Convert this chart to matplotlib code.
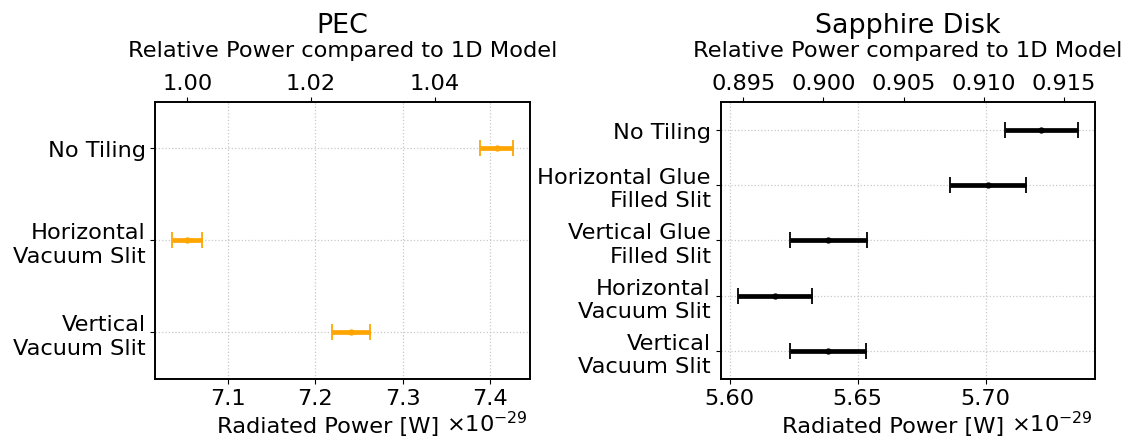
import numpy as np
import matplotlib
matplotlib.use("Agg")
import matplotlib.pyplot as plt

# ---- data (radiated power in units of 1e-29 W) ----
pec_labels = ["No Tiling", "Horizontal\nVacuum Slit", "Vertical\nVacuum Slit"]
pec_power = [7.4071, 7.0536, 7.2407]
pec_err = [0.0186, 0.0169, 0.0212]
pec_ref = 7.054  # 1D model power

sap_labels = ["No Tiling", "Horizontal Glue\nFilled Slit", "Vertical Glue\nFilled Slit",
              "Horizontal\nVacuum Slit", "Vertical\nVacuum Slit"]
sap_power = [5.7218, 5.7010, 5.6385, 5.6177, 5.6384]
sap_err = [0.0143, 0.0147, 0.0150, 0.0145, 0.0149]
sap_ref = 6.263  # 1D model power

plt.rcParams["font.family"] = ["DejaVu Sans"]
plt.rcParams["font.size"] = 16.2

fig = plt.figure(figsize=(11.28, 4.39), dpi=100)
W, H = 1128, 439
top_px, bot_px = 103.3, 379.5
axh = bot_px - top_px
axL = fig.add_axes([155.3 / W, 1 - bot_px / H, (530 - 155.3) / W, axh / H])
axR = fig.add_axes([720.7 / W, 1 - bot_px / H, (1095 - 720.7) / W, axh / H])


def ycoord(px):
    return (bot_px - px) / axh


def panel(ax, labels, power, err, ref, color, title):
    y = np.arange(len(labels))
    ax.errorbar(power, y, xerr=err, fmt="o", color=color, ecolor=color,
                elinewidth=3.4, capsize=6, capthick=1.3, markersize=3.5, zorder=3)
    ax.set_yticks(y)
    ax.set_yticklabels(labels)
    ax.set_ylim(len(labels) - 0.5, -0.5)
    ax.grid(True, linestyle=":", color="#c8c8c8", linewidth=0.9)
    ax.set_axisbelow(True)
    for s in ax.spines.values():
        s.set_linewidth(1.2)
    ax.set_xlabel("Radiated Power [W]")
    ax.xaxis.set_label_coords(0.461, ycoord(432.7))
    ax.xaxis.label.set_va("baseline")
    ax.text(0.9947, ycoord(432.7), r"$\times10^{-29}$", transform=ax.transAxes,
            ha="right", va="baseline", fontsize=16.2)
    ax2 = ax.twiny()
    lo, hi = ax.get_xlim()
    ax2.set_xlim(lo / ref, hi / ref)
    ax2.set_xlabel("Relative Power compared to 1D Model")
    ax2.xaxis.set_label_coords(0.5, ycoord(56.7))
    ax2.xaxis.label.set_va("baseline")
    for s in ax2.spines.values():
        s.set_linewidth(1.2)
    ax2.set_title(title, fontsize=19.4, y=ycoord(33.3), pad=0, va="baseline")
    return ax2


panel(axL, pec_labels, pec_power, pec_err, pec_ref, "orange", "PEC")
axR2 = panel(axR, sap_labels, sap_power, sap_err, sap_ref, "black", "Sapphire Disk")
axR.set_xticks([5.60, 5.65, 5.70])
axR.set_xticklabels(["5.60", "5.65", "5.70"])

fig.savefig("out.png", dpi=100)
